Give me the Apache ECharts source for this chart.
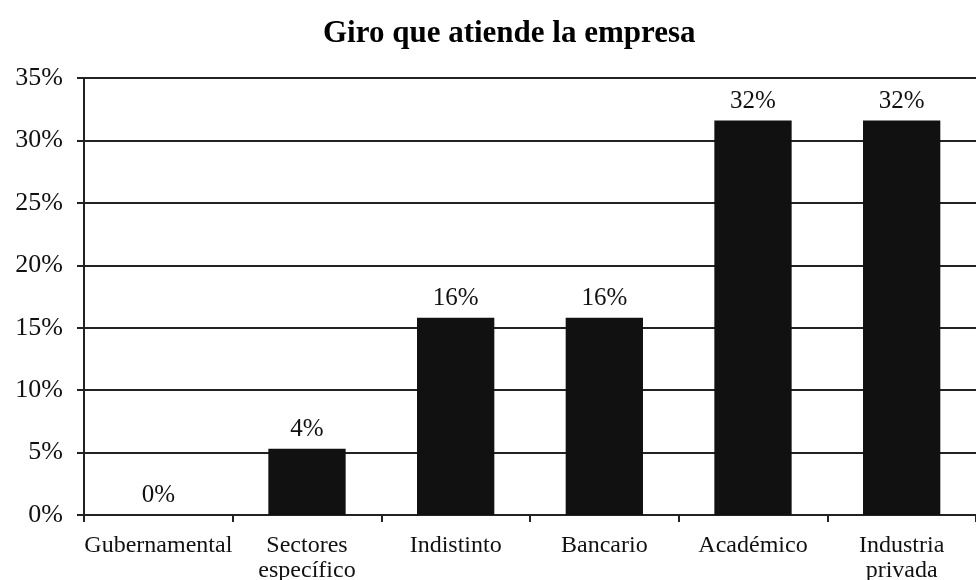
<!DOCTYPE html>
<html>
<head>
<meta charset="utf-8">
<script src="https://cdn.jsdelivr.net/npm/echarts@6/dist/echarts.min.js"></script>
<style>html,body{margin:0;padding:0;background:#fff}#c{width:976px;height:580px}</style>
</head>
<body>
<div id="c"></div>
<script>
const categories = ["Gubernamental", "Sectores\nespecífico", "Indistinto", "Bancario", "Académico", "Industria\nprivada"];
const values = [0, 5.3, 15.8, 15.8, 31.6, 31.6];
const valueLabels = ["0%", "4%", "16%", "16%", "32%", "32%"];
const yTicks = [0, 5, 10, 15, 20, 25, 30, 35];

const chart = echarts.init(document.getElementById('c'));
const font = '"Liberation Serif", "Times New Roman", serif';
chart.setOption({
  animation: false,
  backgroundColor: '#fff',
  title: {
    text: 'Giro que atiende la empresa',
    left: 318, top: 13,
    textStyle: { fontFamily: font, fontSize: 31, fontWeight: 'bold', color: '#000' }
  },
  grid: { left: 84, right: 0, top: 78, bottom: 65, outerBoundsMode: 'none', containLabel: false },
  xAxis: {
    type: 'category',
    data: categories,
    axisLine: { lineStyle: { color: '#222', width: 2 } },
    axisTick: { show: true, length: 7, alignWithLabel: false, lineStyle: { color: '#222', width: 2 } },
    axisLabel: { fontFamily: font, fontSize: 24, color: '#111', margin: 18, lineHeight: 25, interval: 0 }
  },
  yAxis: {
    type: 'value',
    min: 0, max: 35, interval: 5,
    axisLine: { show: true, lineStyle: { color: '#222', width: 2 } },
    axisTick: { show: true, length: 7, lineStyle: { color: '#222', width: 2 } },
    splitLine: { lineStyle: { color: '#222', width: 2 } },
    axisLabel: { fontFamily: font, fontSize: 26, color: '#111', margin: 21,
      formatter: v => yTicks.includes(v) ? v + '%' : '' }
  },
  series: [{
    type: 'bar',
    data: values,
    barWidth: '52%',
    itemStyle: { color: '#111' },
    label: {
      show: true, position: 'top', distance: 7,
      fontFamily: font, fontSize: 25, color: '#111',
      formatter: p => valueLabels[p.dataIndex]
    }
  }]
});
</script>
</body>
</html>
